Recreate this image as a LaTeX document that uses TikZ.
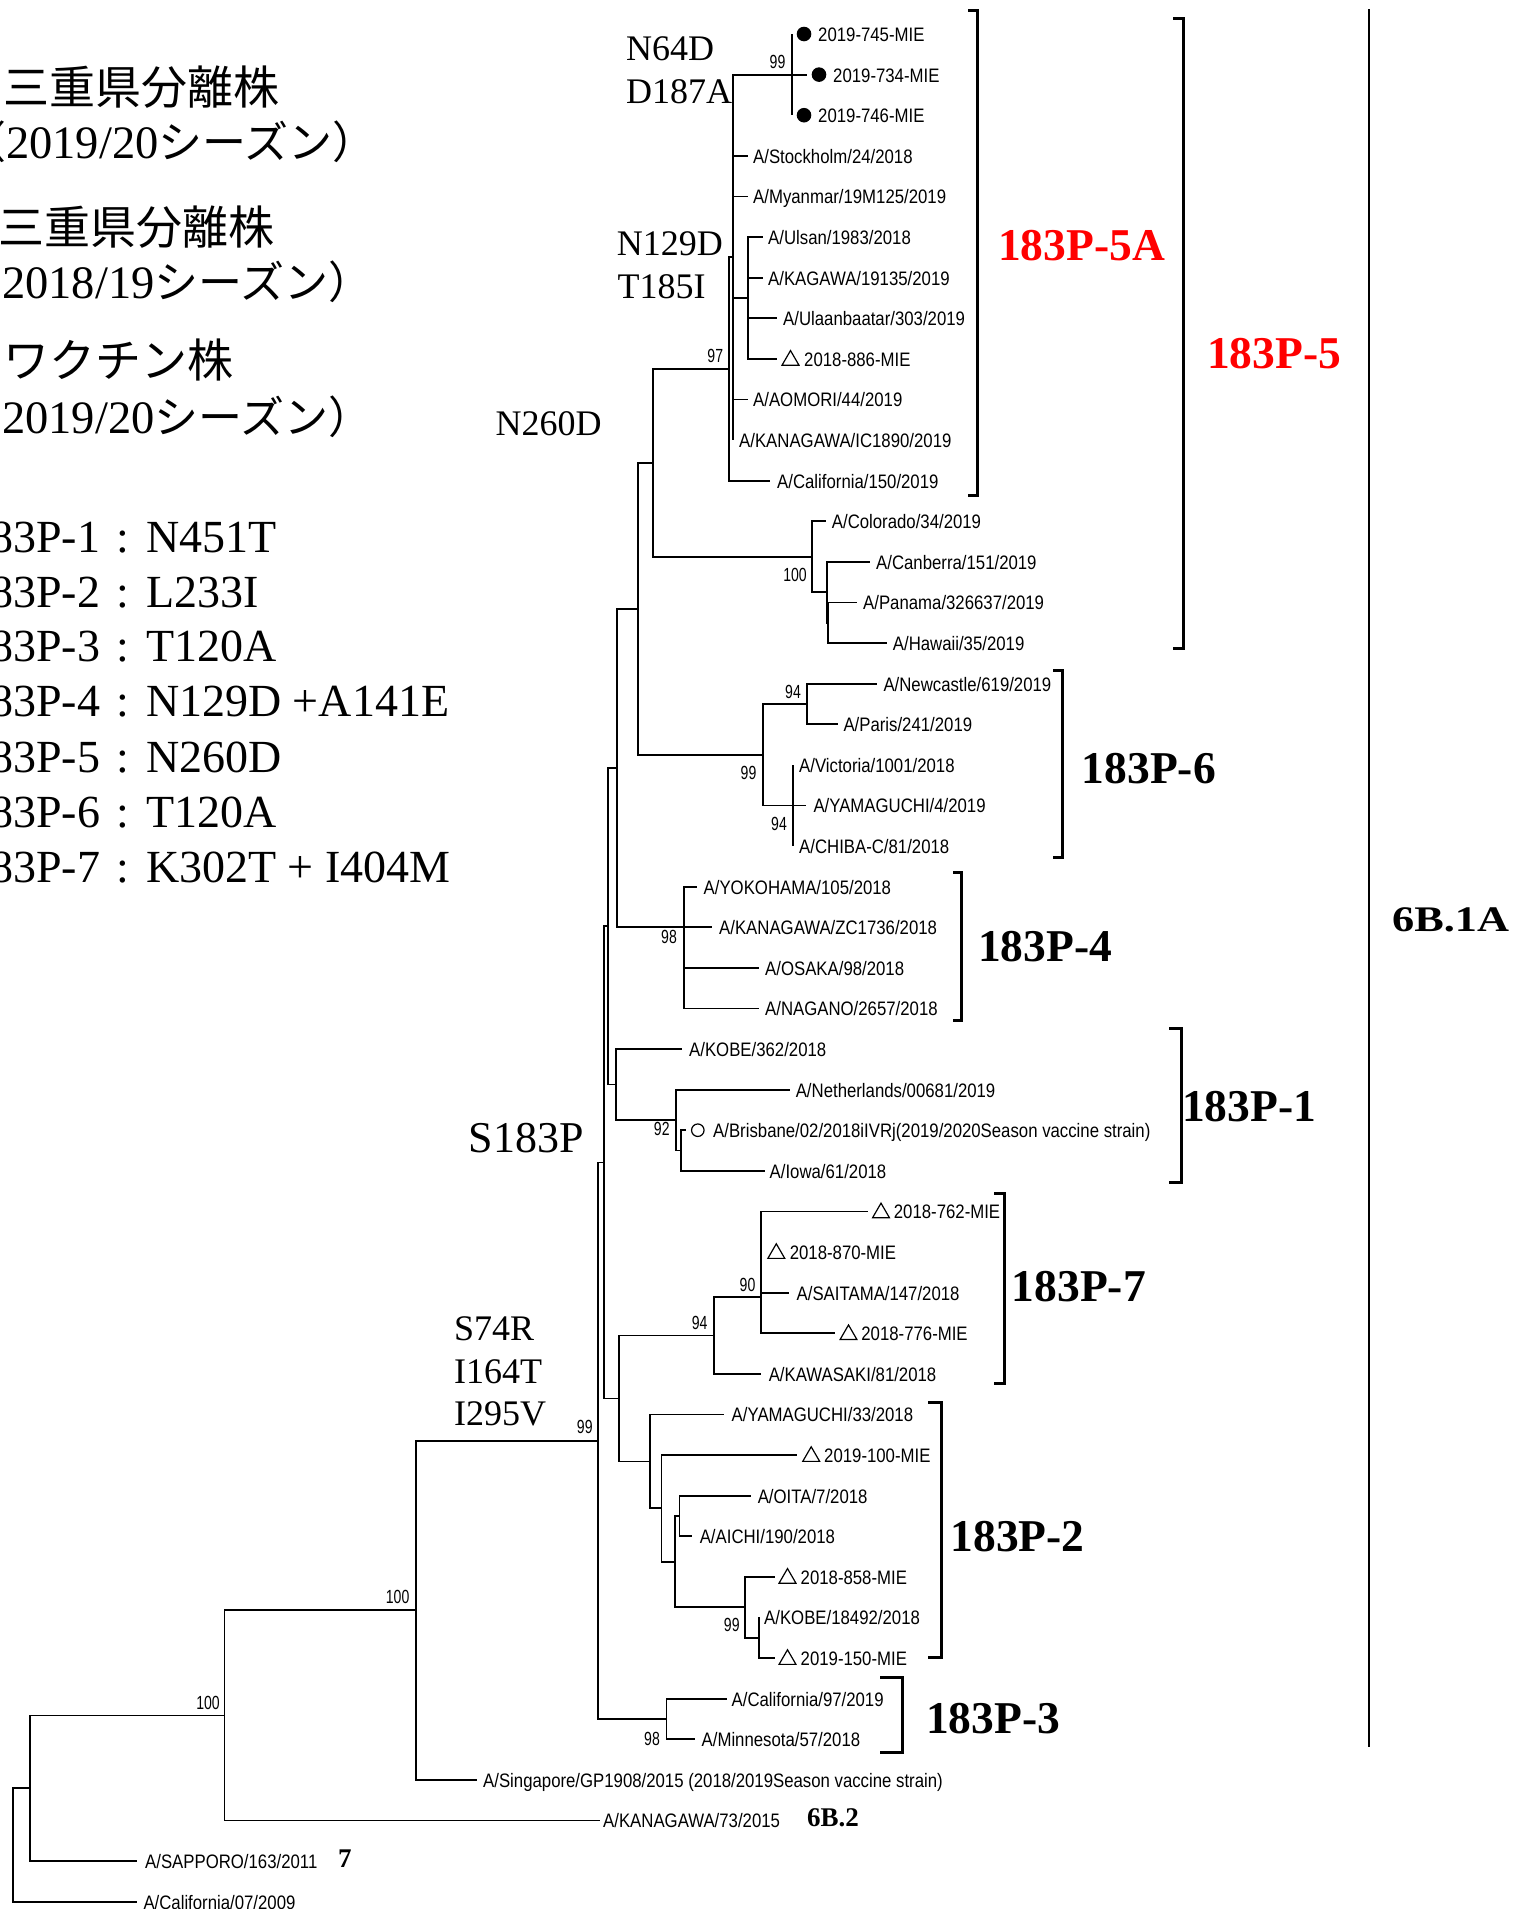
\documentclass[tikz,border=0pt]{standalone}
\usepackage{fontspec}
\usetikzlibrary{shapes.geometric}
\setmainfont{Liberation Serif}
\newfontfamily\leaf[FakeStretch=0.86]{Liberation Sans}
\newfontfamily\bootf[FakeStretch=0.74]{Liberation Sans}
\newfontfamily\cjk{Noto Sans CJK JP}
\newcommand\mylab[3]{\node[lf] (l#1) at (#2,{34+40.6*#1+7.5}) {#3};}
\newcommand\myend[2]{\coordinate (e#1) at (#2,{34+40.6*#1});}
\newcommand\mydot[2]{\node[dot] (d#1) at (#2,{34+40.6*#1}) {};}
\newcommand\mytri[2]{\node[tri] (t#1) at (#2,{34+40.6*#1+1.5}) {};}
\newcommand\mycolon{\hspace{16.6pt}:\hspace{16.6pt}}
\newcommand\jpk[1]{{\cjk\fontsize{44}{50}\selectfont #1}}
\begin{document}
\begin{tikzpicture}[x=1pt,y=-1pt,
  br/.style={line width=1.8pt},
  lf/.style={anchor=base west,inner sep=0pt,font=\leaf\fontsize{19.5}{20}\selectfont},
  bs/.style={inner sep=0pt,font=\bootf\fontsize{19}{20}\selectfont},
  mut/.style={anchor=base west,inner sep=0pt,font=\fontsize{36}{40}\selectfont},
  grp/.style={anchor=base west,inner sep=0pt,font=\bfseries\fontsize{45.5}{50}\selectfont},
  sgrp/.style={anchor=base west,inner sep=0pt,font=\bfseries\fontsize{27}{30}\selectfont},
  leg/.style={anchor=base west,inner sep=0pt,font=\fontsize{46}{50}\selectfont},
  jp/.style={anchor=base west,inner sep=0pt,font=\fontsize{46.5}{50}\selectfont},
  brk/.style={line width=3pt},
  dot/.style={circle,fill,inner sep=0pt,minimum size=14.6pt},
  ring/.style={circle,draw,line width=1.2pt,inner sep=0pt,minimum size=12.5pt},
  tri/.style={regular polygon,regular polygon sides=3,draw,line width=1.2pt,inner sep=0pt,minimum size=19.5pt}]
\useasboundingbox (0,0) rectangle (1523,1909);
\fill[white] (0,0) rectangle (1523,1909);
\clip (0,0) rectangle (1523,1909);

% ---------- legend ----------
\node[jp] (j1) at (3,104) {\cjk\fontsize{46}{50}\selectfont 三重県分離株};
\node[jp] (j2) at (-38,158) {\jpk{（}2019/20\jpk{シーズン）}};
\node[jp] (j3) at (-2,244) {\cjk\fontsize{46}{50}\selectfont 三重県分離株};
\node[jp] (j4) at (-52,298) {\jpk{（}\hspace{10pt}2018/19\jpk{シーズン）}};
\node[jp] (j5) at (3,377) {\cjk\fontsize{46}{50}\selectfont ワクチン株};
\node[jp] (j6) at (-52,433) {\jpk{（}\hspace{10pt}2019/20\jpk{シーズン）}};

\node[leg] (g1) at (-33,552) {183P-1\mycolon N451T};
\node[leg] (g2) at (-33,607) {183P-2\mycolon L233I};
\node[leg] (g3) at (-33,661) {183P-3\mycolon T120A};
\node[leg] (g4) at (-33,716) {183P-4\mycolon N129D +A141E};
\node[leg] (g5) at (-33,772) {183P-5\mycolon N260D};
\node[leg] (g6) at (-33,827) {183P-6\mycolon T120A};
\node[leg] (g7) at (-33,882) {183P-7\mycolon K302T + I404M};

% ---------- internal nodes ----------
\coordinate (root) at (13.3,1844.9);
\coordinate (nsap) at (30.3,1788.2);
\coordinate (n100c) at (224.5,1715.4);
\coordinate (n100b) at (416,1610.3);
\coordinate (nS) at (598.3,1440.7);
\coordinate (nA) at (604.3,1162.4);
\coordinate (nL) at (608.3,926.3);
\coordinate (nM) at (617.3,768);
\coordinate (nN) at (638.3,608.8);
\coordinate (n260) at (653.3,462.9);
\coordinate (n97) at (729.3,369);
\coordinate (c5a) at (732.7,257.3);
\coordinate (mie) at (791.7,74.6);
\coordinate (uls) at (747.7,297.9);
\coordinate (n100a) at (812,556.8);
\coordinate (s1) at (827,592.3);
\coordinate (s2) at (828.3,622.7);
\coordinate (n99a) at (762.7,754.7);
\coordinate (n94a) at (806.7,703.9);
\coordinate (n94b) at (792.7,805.4);
\coordinate (n98a) at (683.6,927.2);
\coordinate (nkobe) at (616,1084.5);
\coordinate (n92) at (675.7,1120);
\coordinate (n92s) at (681,1150.5);
\coordinate (n619) at (619.3,1398.4);
\coordinate (n94c) at (714.2,1335.4);
\coordinate (n90) at (761.3,1297);
\coordinate (n650) at (650,1461.4);
\coordinate (n661) at (661.4,1508.3);
\coordinate (n675) at (675.3,1561.6);
\coordinate (noa) at (679.4,1515.9);
\coordinate (n99c) at (745,1607.3);
\coordinate (n99s) at (759,1637.7);
\coordinate (n98c) at (666.5,1718.9);

% ---------- leaf branch ends ----------
\myend{0}{791.7}\myend{1}{806.7}\myend{2}{791.7}\myend{3}{747.7}\myend{4}{747.7}
\myend{5}{763}\myend{6}{763}\myend{7}{777}\myend{8}{777}\myend{9}{747.7}
\myend{10}{732.7}\myend{11}{770}\myend{12}{826}\myend{13}{870}\myend{14}{857}
\myend{15}{887}\myend{16}{877}\myend{17}{838}\myend{18}{792.7}\myend{19}{806}
\myend{20}{792.7}\myend{21}{697}\myend{22}{712}\myend{23}{759}\myend{24}{759}
\myend{25}{682.4}\myend{26}{789.8}\myend{27}{686}\myend{28}{765}\myend{29}{868}
\myend{30}{761.3}\myend{31}{789}\myend{32}{834.8}\myend{33}{761}\myend{34}{723.8}
\myend{35}{797.3}\myend{36}{751.4}\myend{37}{692}\myend{38}{775}\myend{39}{759}
\myend{40}{775}\myend{41}{727}\myend{42}{695}\myend{43}{477}\myend{44}{600}
\myend{45}{136.7}\myend{46}{136.7}

% ---------- branches ----------
\foreach \p/\c in {root/nsap,root/e46,nsap/n100c,nsap/e45,n100c/n100b,n100c/e44,
  n100b/nS,n100b/e43,nS/nA,nS/n98c,n98c/e41,n98c/e42,nA/nL,nA/n619,
  nL/nM,nL/nkobe,nM/nN,nM/n98a,nN/n260,nN/n99a,n260/n97,n260/n100a,
  n97/c5a,n97/e11,c5a/mie,c5a/e3,c5a/e4,c5a/uls,c5a/e9,c5a/e10,
  mie/e0,mie/e1,mie/e2,uls/e5,uls/e6,uls/e7,uls/e8,
  n100a/e12,n100a/s1,s1/e13,s1/s2,s2/e14,s2/e15,
  n99a/n94a,n99a/n94b,n94a/e16,n94a/e17,n94b/e18,n94b/e19,n94b/e20,
  n98a/e21,n98a/e22,n98a/e23,n98a/e24,
  nkobe/e25,nkobe/n92,n92/e26,n92/n92s,n92s/e27,n92s/e28,
  n619/n94c,n619/n650,n94c/n90,n94c/e33,n90/e29,n90/e30,n90/e31,n90/e32,
  n650/e34,n650/n661,n661/e35,n661/n675,n675/noa,n675/n99c,
  noa/e36,noa/e37,n99c/e38,n99c/n99s,n99s/e39,n99s/e40}
  \draw[br] (\p) |- (\c);

% ---------- markers ----------
\mydot{0}{804}\mydot{1}{819}\mydot{2}{804}
\mytri{8}{790.5}\mytri{29}{881}\mytri{30}{776.3}\mytri{32}{848.5}
\mytri{35}{811.2}\mytri{38}{787.5}\mytri{40}{787.5}
\node[ring] (r27) at (697.8,{34+40.6*27}) {};

% ---------- leaf labels ----------
\mylab{0}{818}{2019-745-MIE}
\mylab{1}{833}{2019-734-MIE}
\mylab{2}{818}{2019-746-MIE}
\mylab{3}{753}{A/Stockholm/24/2018}
\mylab{4}{753}{A/Myanmar/19M125/2019}
\mylab{5}{768}{A/Ulsan/1983/2018}
\mylab{6}{768}{A/KAGAWA/19135/2019}
\mylab{7}{783}{A/Ulaanbaatar/303/2019}
\mylab{8}{804}{2018-886-MIE}
\mylab{9}{753}{A/AOMORI/44/2019}
\mylab{10}{739}{A/KANAGAWA/IC1890/2019}
\mylab{11}{777}{A/California/150/2019}
\mylab{12}{831.7}{A/Colorado/34/2019}
\mylab{13}{876}{A/Canberra/151/2019}
\mylab{14}{863}{A/Panama/326637/2019}
\mylab{15}{892.7}{A/Hawaii/35/2019}
\mylab{16}{883.3}{A/Newcastle/619/2019}
\mylab{17}{843.3}{A/Paris/241/2019}
\mylab{18}{799}{A/Victoria/1001/2018}
\mylab{19}{813.3}{A/YAMAGUCHI/4/2019}
\mylab{20}{799}{A/CHIBA-C/81/2018}
\mylab{21}{703.5}{A/YOKOHAMA/105/2018}
\mylab{22}{719}{A/KANAGAWA/ZC1736/2018}
\mylab{23}{765}{A/OSAKA/98/2018}
\mylab{24}{765}{A/NAGANO/2657/2018}
\mylab{25}{689}{A/KOBE/362/2018}
\mylab{26}{795.6}{A/Netherlands/00681/2019}
\mylab{27}{713}{A/Brisbane/02/2018iIVRj(2019/2020Season vaccine strain)}
\mylab{28}{769.5}{A/Iowa/61/2018}
\mylab{29}{893.7}{2018-762-MIE}
\mylab{30}{789.6}{2018-870-MIE}
\mylab{31}{796.5}{A/SAITAMA/147/2018}
\mylab{32}{861.2}{2018-776-MIE}
\mylab{33}{768.6}{A/KAWASAKI/81/2018}
\mylab{34}{731.5}{A/YAMAGUCHI/33/2018}
\mylab{35}{824}{2019-100-MIE}
\mylab{36}{757.6}{A/OITA/7/2018}
\mylab{37}{699.6}{A/AICHI/190/2018}
\mylab{38}{800.5}{2018-858-MIE}
\mylab{39}{764}{A/KOBE/18492/2018}
\mylab{40}{800.5}{2019-150-MIE}
\mylab{41}{731.5}{A/California/97/2019}
\mylab{42}{701.5}{A/Minnesota/57/2018}
\mylab{43}{483}{A/Singapore/GP1908/2015 (2018/2019Season vaccine strain)}
\mylab{44}{603}{A/KANAGAWA/73/2015}
\mylab{45}{145}{A/SAPPORO/163/2011}
\mylab{46}{143.3}{A/California/07/2009}

% ---------- bootstrap values ----------
\node[bs] (b1) at (777.5,61.7) {99};
\node[bs] (b2) at (715.3,356) {97};
\node[bs] (b3) at (795,575) {100};
\node[bs] (b4) at (793,691.7) {94};
\node[bs] (b5) at (748.5,773.3) {99};
\node[bs] (b6) at (779,824) {94};
\node[bs] (b7) at (669,937.3) {98};
\node[bs] (b8) at (661.8,1129) {92};
\node[bs] (b9) at (747.5,1285) {90};
\node[bs] (b10) at (699.7,1323.3) {94};
\node[bs] (b11) at (584.8,1426.7) {99};
\node[bs] (b12) at (731.8,1625.4) {99};
\node[bs] (b13) at (652,1739.4) {98};
\node[bs] (b14) at (397.6,1597) {100};
\node[bs] (b15) at (208,1703) {100};

% ---------- mutations ----------
\node[mut] (m1) at (626,60.7) {N64D};
\node[mut] (m2) at (626,103) {D187A};
\node[mut] (m3) at (616.7,255) {N129D};
\node[mut] (m4) at (617.3,298.3) {T185I};
\node[mut] (m5) at (495.5,435.4) {N260D};
\node[mut,font=\fontsize{44}{48}\selectfont] (m6) at (468.7,1152.6) {S183P};
\node[mut] (m7) at (454,1340.8) {S74R};
\node[mut] (m8) at (454,1383.5) {I164T};
\node[mut] (m9) at (454,1425) {I295V};

% ---------- group labels ----------
\node[grp,text=red] (c5A) at (998,260) {183P-5A};
\node[grp,text=red] (c5) at (1207,368) {183P-5};
\node[grp] (c6) at (1081.6,783.3) {183P-6};
\node[grp] (c4) at (978,961.7) {183P-4};
\node[grp] (c1) at (1182,1121.7) {183P-1};
\node[grp] (c7) at (1011.6,1301.7) {183P-7};
\node[grp] (c2) at (950.4,1551.5) {183P-2};
\node[grp] (c3) at (926,1733) {183P-3};
\node[grp,font=\bfseries\fontsize{36}{40}\selectfont] (c61a) at (1392,931.7) {\scalebox{1.23}[1]{6B.1A}};
\node[sgrp] (c62) at (807,1826) {6B.2};
\node[sgrp] (c7b) at (338,1867.8) {7};

% ---------- brackets ----------
\draw[brk] (968,10) -- (977,10) -- (977,495) -- (968,495);
\draw[brk] (1173,18) -- (1183,18) -- (1183,648) -- (1173,648);
\draw[brk] (1053,670) -- (1062,670) -- (1062,857) -- (1053,857);
\draw[brk] (953,872) -- (961,872) -- (961,1020) -- (953,1020);
\draw[brk] (1169,1028) -- (1181,1028) -- (1181,1182) -- (1169,1182);
\draw[brk] (994,1193) -- (1004,1193) -- (1004,1383) -- (994,1383);
\draw[brk] (928,1402) -- (941,1402) -- (941,1657) -- (928,1657);
\draw[brk] (880,1677) -- (902,1677) -- (902,1752) -- (880,1752);
\draw[line width=2.5pt] (1369,9) -- (1369,1747);
\end{tikzpicture}
\end{document}
